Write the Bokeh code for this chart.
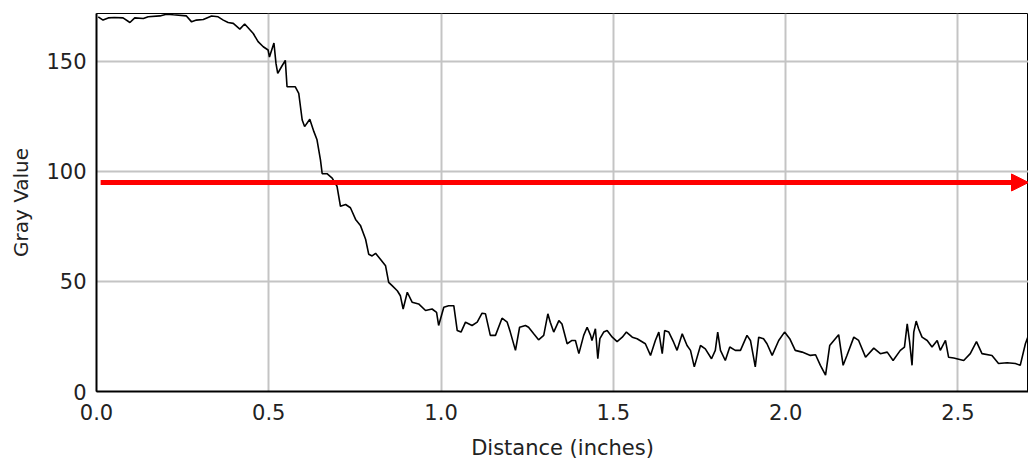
from bokeh.plotting import figure
from bokeh.models import Range1d, FixedTicker, Arrow, NormalHead, ColumnDataSource
from bokeh.embed import file_html
from bokeh.resources import INLINE

# Profile: distance along the line (inches) and gray value
distance = [
    0.005, 0.019, 0.034, 0.052, 0.077, 0.097, 0.111, 0.136, 0.150, 0.184,
    0.203, 0.223, 0.261, 0.276, 0.290, 0.310, 0.334, 0.353, 0.368, 0.382,
    0.397, 0.416, 0.430, 0.440, 0.455, 0.469, 0.484, 0.498, 0.502, 0.515,
    0.521, 0.526, 0.537, 0.548, 0.553, 0.577, 0.587, 0.597, 0.604, 0.619,
    0.631, 0.640, 0.650, 0.655, 0.669, 0.684, 0.698, 0.708, 0.723, 0.737,
    0.752, 0.766, 0.781, 0.790, 0.800, 0.810, 0.824, 0.839, 0.848, 0.858,
    0.873, 0.882, 0.890, 0.902, 0.916, 0.935, 0.955, 0.974, 0.987, 0.993,
    1.008, 1.022, 1.037, 1.047, 1.058, 1.071, 1.090, 1.105, 1.119, 1.129,
    1.143, 1.158, 1.177, 1.192, 1.201, 1.216, 1.228, 1.245, 1.254, 1.269,
    1.283, 1.298, 1.310, 1.317, 1.327, 1.342, 1.351, 1.366, 1.380, 1.390,
    1.400, 1.414, 1.424, 1.434, 1.438, 1.448, 1.455, 1.461, 1.472, 1.482,
    1.497, 1.511, 1.526, 1.538, 1.555, 1.569, 1.593, 1.608, 1.622, 1.632,
    1.642, 1.649, 1.661, 1.675, 1.685, 1.700, 1.714, 1.724, 1.735, 1.753,
    1.767, 1.785, 1.796, 1.803, 1.811, 1.825, 1.838, 1.854, 1.869, 1.888,
    1.898, 1.906, 1.912, 1.922, 1.936, 1.946, 1.961, 1.980, 1.997, 2.012,
    2.028, 2.048, 2.072, 2.087, 2.101, 2.116, 2.128, 2.154, 2.167, 2.178,
    2.198, 2.212, 2.232, 2.256, 2.275, 2.295, 2.312, 2.333, 2.345, 2.353,
    2.360, 2.367, 2.372, 2.379, 2.386, 2.396, 2.411, 2.425, 2.440, 2.449,
    2.464, 2.473, 2.488, 2.517, 2.536, 2.554, 2.570, 2.599, 2.618, 2.643,
    2.667, 2.681, 2.696, 2.705,
]
gray = [
    170.3, 168.8, 169.8, 170.0, 169.8, 167.7, 169.8, 169.5, 170.3, 170.7,
    171.5, 171.2, 170.7, 168.0, 168.8, 169.1, 170.7, 170.3, 168.8, 167.7,
    167.3, 164.7, 167.0, 165.3, 162.7, 159.0, 156.7, 155.2, 152.0, 158.4,
    149.0, 144.6, 147.6, 150.5, 138.5, 138.5, 135.5, 123.4, 120.4, 123.7,
    118.1, 114.4, 105.3, 99.0, 99.0, 97.0, 93.3, 84.2, 85.0, 83.5,
    78.2, 75.5, 69.2, 62.4, 61.6, 62.8, 60.1, 57.1, 49.6, 48.1,
    45.8, 43.5, 37.5, 45.1, 40.6, 39.8, 36.8, 37.5, 36.0, 30.0,
    38.3, 39.0, 39.0, 27.7, 27.0, 31.5, 30.0, 31.5, 35.6, 35.3,
    25.5, 25.5, 33.3, 31.5, 27.0, 18.7, 29.2, 30.0, 29.2, 26.2,
    23.5, 25.5, 35.3, 31.5, 27.0, 32.2, 30.7, 21.7, 23.2, 23.2,
    17.2, 25.5, 29.2, 25.5, 23.2, 28.5, 14.9, 24.0, 27.0, 27.7,
    24.7, 22.7, 24.7, 27.0, 24.7, 24.0, 21.7, 16.4, 23.2, 27.0,
    17.2, 27.7, 27.0, 22.4, 18.7, 26.2, 20.9, 18.7, 11.2, 20.9,
    19.4, 14.9, 18.7, 27.0, 18.7, 14.1, 20.2, 18.7, 18.7, 25.5,
    23.2, 16.4, 11.2, 24.7, 24.0, 21.7, 16.4, 23.2, 27.0, 24.0,
    18.7, 17.9, 16.4, 16.7, 11.9, 7.4, 20.9, 25.8, 11.9, 16.4,
    24.7, 23.2, 15.6, 19.7, 17.2, 17.9, 14.1, 18.7, 20.2, 30.7,
    22.4, 11.9, 27.0, 32.0, 28.5, 24.7, 23.2, 20.2, 23.2, 18.7,
    23.2, 15.6, 15.2, 14.1, 17.2, 22.7, 17.2, 16.4, 12.7, 13.1,
    12.7, 11.9, 21.7, 25.5,
]

x_ticks = [0.0, 0.5, 1.0, 1.5, 2.0, 2.5]
x_tick_labels = ["0.0", "0.5", "1.0", "1.5", "2.0", "2.5"]
y_ticks = [0, 50, 100, 150]
y_tick_labels = ["0", "50", "100", "150"]
threshold = 95          # gray level marked by the red arrow
x_max = 2.705
y_max = 171.8

FONT = "DejaVu Sans"

p = figure(width=1028, height=462, output_backend="svg", toolbar_location=None,
           x_range=Range1d(0, x_max), y_range=Range1d(0, y_max),
           min_border_left=96, min_border_right=0, min_border_top=13,
           min_border_bottom=69)

p.background_fill_color = "white"
p.border_fill_color = "white"
p.outline_line_color = "black"
p.outline_line_width = 1

for ax in (p.xaxis[0], p.yaxis[0]):
    ax.axis_line_color = "black"
    ax.axis_line_width = 2
    ax.major_tick_line_color = None
    ax.minor_tick_line_color = None
    ax.major_tick_out = 0
    ax.major_tick_in = 0
    ax.major_label_text_font = FONT
    ax.major_label_text_font_size = "21px"
    ax.major_label_text_color = "#222222"
    ax.axis_label_text_font = FONT
    ax.axis_label_text_font_style = "normal"
    ax.axis_label_text_color = "#222222"

p.xaxis.ticker = FixedTicker(ticks=x_ticks)
p.xaxis.major_label_overrides = dict(zip(x_ticks, x_tick_labels))
p.yaxis.ticker = FixedTicker(ticks=y_ticks)
p.yaxis.major_label_overrides = dict(zip(y_ticks, y_tick_labels))
p.xaxis.axis_label = "Distance (inches)"
p.yaxis.axis_label = "Gray Value"
p.xaxis.axis_label_text_font_size = "21px"
p.yaxis.axis_label_text_font_size = "20px"
p.xaxis.major_label_standoff = 12
p.yaxis.major_label_standoff = 10
p.xaxis.axis_label_standoff = 13
p.yaxis.axis_label_standoff = 10

p.xgrid.ticker = FixedTicker(ticks=x_ticks)
p.ygrid.ticker = FixedTicker(ticks=y_ticks)
p.grid.grid_line_color = "#c4c4c4"
p.grid.grid_line_width = 2

src = ColumnDataSource(dict(x=distance, y=gray))
p.line("x", "y", source=src, line_color="black", line_width=1.6)

arrow = Arrow(end=NormalHead(size=17, fill_color="#ff0000", line_color="#ff0000"),
              x_start=0.012, y_start=threshold, x_end=x_max, y_end=threshold,
              line_color="#ff0000", line_width=5)
p.add_layout(arrow)

open("out.html", "w").write(file_html(p, INLINE))
